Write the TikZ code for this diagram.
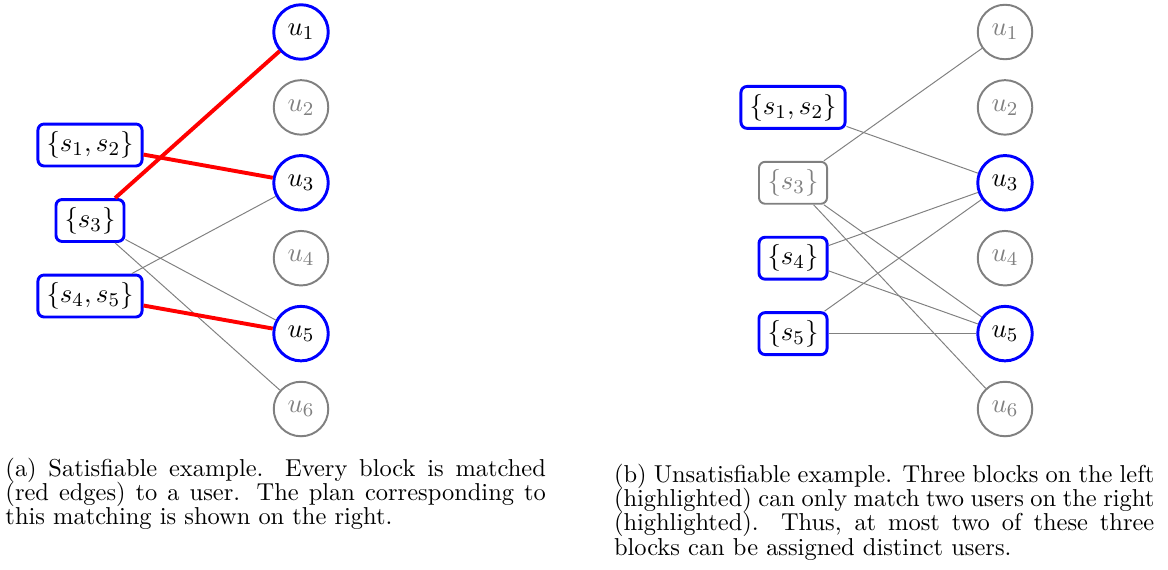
\documentclass[tikz,border=0pt]{standalone}
\begin{document}
\begin{tikzpicture}[x=0.409pt, y=-0.409pt,
  blk/.style={rectangle, rounded corners=2.5pt, inner xsep=3.5pt, inner ysep=3.1pt, font=\fontsize{10.95}{13}\selectfont},
  hiblk/.style={blk, draw=blue, line width=1.2pt},
  loblk/.style={blk, draw=gray, line width=0.8pt, text=gray},
  usr/.style={circle, minimum size=22.3pt, inner sep=0pt, font=\fontsize{10.95}{13}\selectfont},
  hiusr/.style={usr, draw=blue, line width=1.2pt},
  lousr/.style={usr, draw=gray, line width=0.8pt, text=gray},
  matchedge/.style={red, line width=1.6pt},
  plainedge/.style={gray, line width=0.4pt},
  captext/.style={anchor=base west, inner sep=0pt}
]
\useasboundingbox (0,0) rectangle (1168,569);

% ---------- (a) ----------
\node[hiusr] (a1) at (301,32) {$u_1$};
\node[lousr] (a2) at (301,107.4) {$u_2$};
\node[hiusr] (a3) at (301,182.8) {$u_3$};
\node[lousr] (a4) at (301,258.2) {$u_4$};
\node[hiusr] (a5) at (301,333.6) {$u_5$};
\node[lousr] (a6) at (301,409) {$u_6$};

\node[hiblk] (as12) at (90,145) {$\{s_1,s_2\}$};
\node[hiblk] (as3) at (90,220.5) {$\{s_3\}$};
\node[hiblk] (as45) at (90,296) {$\{s_4,s_5\}$};

\draw[plainedge] (as45) -- (a3);
\draw[plainedge] (as3) -- (a5);
\draw[plainedge] (as3) -- (a6);
\draw[matchedge] (as3) -- (a1);
\draw[matchedge] (as12) -- (a3);
\draw[matchedge] (as45) -- (a5);

% ---------- (b) ----------
\node[lousr] (b1) at (1005,32) {$u_1$};
\node[lousr] (b2) at (1005,107.4) {$u_2$};
\node[hiusr] (b3) at (1005,182.8) {$u_3$};
\node[lousr] (b4) at (1005,258.2) {$u_4$};
\node[hiusr] (b5) at (1005,333.6) {$u_5$};
\node[lousr] (b6) at (1005,409) {$u_6$};

\node[hiblk] (bs12) at (793,107.4) {$\{s_1,s_2\}$};
\node[loblk] (bs3) at (793,182.8) {$\{s_3\}$};
\node[hiblk] (bs4) at (793,258.2) {$\{s_4\}$};
\node[hiblk] (bs5) at (793,333.6) {$\{s_5\}$};

\draw[plainedge] (bs3) -- (b1);
\draw[plainedge] (bs12) -- (b3);
\draw[plainedge] (bs3) -- (b5);
\draw[plainedge] (bs3) -- (b6);
\draw[plainedge] (bs4) -- (b3);
\draw[plainedge] (bs4) -- (b5);
\draw[plainedge] (bs5) -- (b3);
\draw[plainedge] (bs5) -- (b5);

% ---------- captions ----------
\node[captext] (capa) at (5,476) {\parbox[t]{221pt}{\fontsize{10}{10}\selectfont (a) Satisfiable example. Every block is matched (red edges) to a user. The plan corresponding to this matching is shown on the right.}};
\node[captext] (capb) at (613.5,482) {\parbox[t]{221pt}{\fontsize{10}{10}\selectfont (b) Unsatisfiable example. Three blocks on the left (highlighted) can only match two users on the right (highlighted). Thus, at most two of these three blocks can be assigned distinct users.}};
\end{tikzpicture}
\end{document}
